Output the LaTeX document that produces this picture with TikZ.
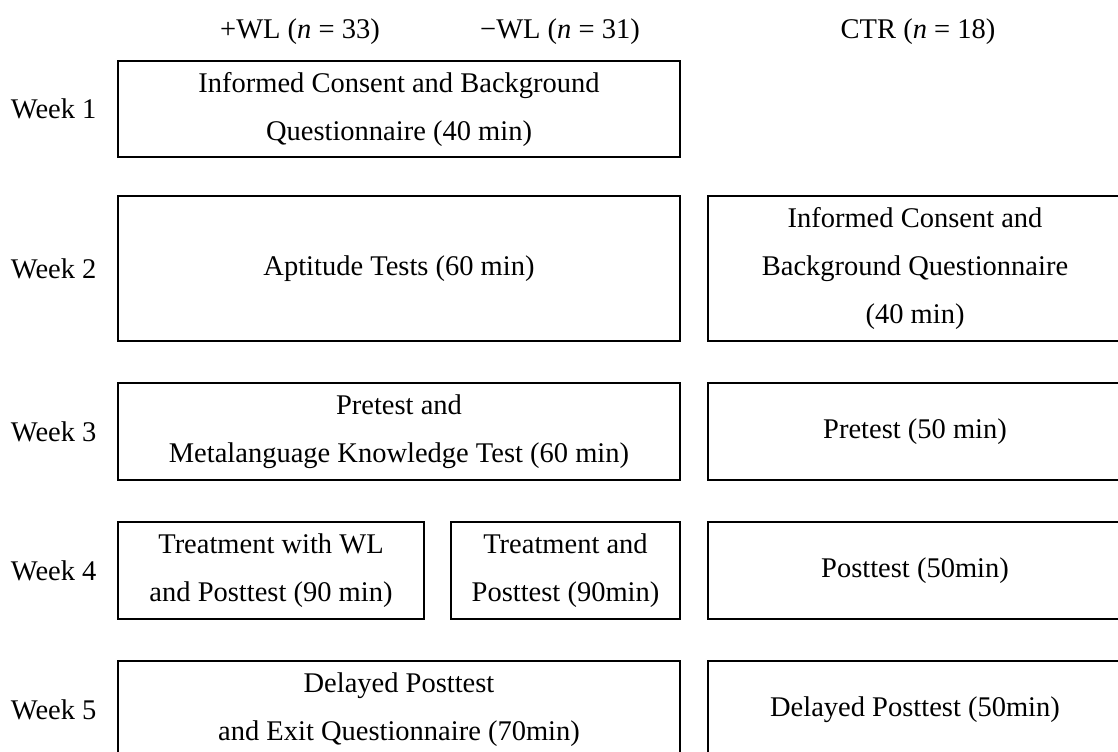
\documentclass[tikz,border=0pt]{standalone}
\usepackage{fontspec}
\setmainfont{Liberation Serif}
\usetikzlibrary{positioning}

\begin{document}
\begin{tikzpicture}[x=0.5pt,y=-0.5pt,
font=\fontsize{14.25}{24}\selectfont,
phase/.style={
rectangle,
draw,
line width=1.1pt,
align=center,
inner sep=0pt
},
wide/.style={phase, minimum width=281pt},
ctrl/.style={phase, minimum width=207pt},
week/.style={inner sep=0pt}]
\useasboundingbox (0,0) rectangle (1118,751);
% group headers
\node (plus) at (300,32) {+WL (\textit{n} = 33)};
\node (minus) at (560,32) {−WL (\textit{n} = 31)};
\node (ctr) at (918,32) {CTR (\textit{n} = 18)};
% week 1
\node (w1) [wide, minimum height=48pt] at (399,109) {Informed Consent and Background\\Questionnaire (40 min)};
% week 2
\node (w2) [wide, minimum height=72.5pt] at (399,268.5) {Aptitude Tests (60 min)};
\node (w2c) [ctrl, minimum height=72.5pt] at (915,268.5) {Informed Consent and\\Background Questionnaire\\(40 min)};
% week 3
\node (w3) [wide, minimum height=48.5pt] at (399,431.5) {Pretest and\\Metalanguage Knowledge Test (60 min)};
\node (w3c) [ctrl, minimum height=48.5pt] at (915,431.5) {Pretest (50 min)};
% week 4
\node (w4p) [phase, minimum width=153pt, minimum height=48.5pt] at (271,570.5) {Treatment with WL\\and Posttest (90 min)};
\node (w4m) [phase, minimum width=114.5pt, minimum height=48.5pt] at (565.5,570.5) {Treatment and\\Posttest (90min)};
\node (w4c) [ctrl, minimum height=48.5pt] at (915,570.5) {Posttest (50min)};
% week 5
\node (w5) [wide, minimum height=48.5pt] at (399,709.5) {Delayed Posttest\\and Exit Questionnaire (70min)};
\node (w5c) [ctrl, minimum height=48.5pt] at (915,709.5) {Delayed Posttest (50min)};
% week labels
\node (l1) [week, left=10pt of w1] {Week 1};
\node (l2) [week, left=10pt of w2] {Week 2};
\node (l3) [week, left=10pt of w3] {Week 3};
\node (l4) [week, left=10pt of w4p] {Week 4};
\node (l5) [week, left=10pt of w5] {Week 5};
\end{tikzpicture}
\end{document}
